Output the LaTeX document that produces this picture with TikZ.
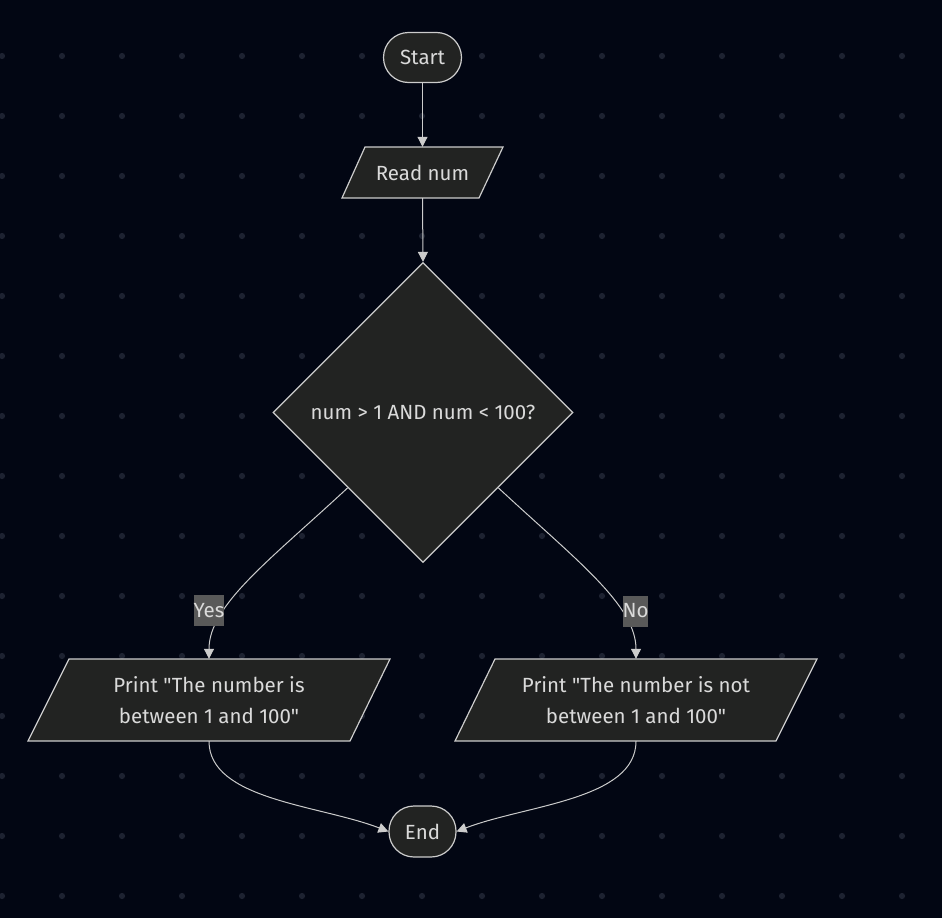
\documentclass[tikz,border=0pt]{standalone}
\usepackage{fontspec}
\newfontfamily\diafont{Fira Sans}
\usetikzlibrary{shapes.geometric,arrows.meta}
\definecolor{bgc}{HTML}{020613}
\definecolor{dotc}{HTML}{1D2231}
\definecolor{nodefill}{HTML}{222322}
\definecolor{strokec}{HTML}{CCCCCC}
\definecolor{txtc}{HTML}{DADADA}
\definecolor{lblbg}{HTML}{595959}
\tikzset{
  every node/.style={text=txtc, font=\diafont\fontsize{20.5pt}{31pt}\selectfont},
  shapeline/.style={draw=strokec, line width=1.2pt, fill=nodefill},
  stadium/.style={shapeline, rectangle, rounded corners=25pt, inner sep=0pt},
  txtonly/.style={inner sep=0pt, align=center},
  decbox/.style={shapeline, diamond, inner sep=0pt, minimum width=300pt, minimum height=300pt},
  edgelbl/.style={fill=lblbg, inner sep=0pt, minimum width=30pt, minimum height=31pt},
  conn/.style={draw=strokec, line width=1pt, -{Triangle[length=10pt,width=10pt]}},
}
\begin{document}
\begin{tikzpicture}[x=1pt,y=-1pt]
\useasboundingbox (0,0) rectangle (942,918);
\fill[bgc] (0,0) rectangle (942,918);
\foreach \gx in {2,62,...,902} {
  \foreach \gy in {-4,56,...,896} {
    \fill[dotc] (\gx,\gy) circle (3.1pt);
  }
}
% Start
\node[stadium, minimum width=78pt, minimum height=50pt] (start) at (422.5,57.5) {Start};
% Read num
\path[shapeline] (365,147) -- (503,147) -- (479,198) -- (342,198) -- cycle;
\node[txtonly, minimum width=110pt, minimum height=51pt] (read) at (422.5,172.5) {Read num};
% Decision
\node[decbox] (dec) at (423,412.5) {};
\node[txtonly] (dectxt) at (423,412.5) {num > 1 AND num < 100?};
% Print yes
\path[shapeline] (69,659) -- (390,659) -- (350,741) -- (28,741) -- cycle;
\node[txtonly, minimum width=250pt, minimum height=82pt] (pyes) at (209,700) {Print "The number is\\between 1 and 100"};
% Print no
\path[shapeline] (495,659) -- (817,659) -- (776,741) -- (455,741) -- cycle;
\node[txtonly, minimum width=250pt, minimum height=82pt] (pno) at (636,700) {Print "The number is not\\between 1 and 100"};
% End
\node[stadium, minimum width=67pt, minimum height=51pt] (end) at (422.5,831.5) {End};
% connectors
\draw[conn] (start.south) -- (read.north);
\draw[conn] (read.south) -- (dec.north);
\draw[conn] (dec.south west) .. controls (270,560) and (209,605) .. (pyes.north);
\draw[conn] (dec.south east) .. controls (576,560) and (636,605) .. (pno.north);
\draw[conn] (pyes.south) .. controls (209,800) and (320,805) .. (end.west);
\draw[conn] (pno.south) .. controls (636,800) and (525,805) .. (end.east);
% edge labels
\node[edgelbl] (lyes) at (209,610.5) {Yes};
\node[edgelbl, minimum width=25pt] (lno) at (635.5,611) {No};
\end{tikzpicture}
\end{document}
